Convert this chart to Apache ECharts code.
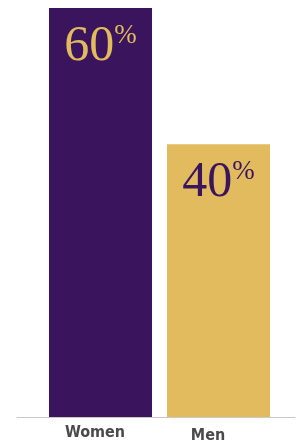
<!DOCTYPE html>
<html lang="en">
<head>
  <meta charset="UTF-8" />
  <title>Women vs Men</title>
  <script src="https://cdn.jsdelivr.net/npm/echarts@6/dist/echarts.min.js"></script>
  <style>
    body { margin: 0; background: #fff; }
    #chart { width: 303px; height: 445px; }
  </style>
</head>
<body>
  <div id="chart"></div>
  <script>
    // data
    const categories = ['Women', 'Men'];
    const shares = [60, 40];
    const barColors = ['#3b145e', '#e2bb5e'];
    const labelColors = ['#e2bb5e', '#3b145e'];

    const chart = echarts.init(document.getElementById('chart'));

    const serif = "'Liberation Serif', 'DejaVu Serif', serif";
    const narrow = "'Liberation Sans Narrow', 'DejaVu Sans Condensed', sans-serif";

    chart.setOption({
      animation: false,
      grid: [
        { left: 41.5, right: 25.5, top: 8, bottom: 28 },
        { left: 17, right: 8, top: 8, bottom: 28 }   // only for the long baseline
      ],
      xAxis: [
        {
          type: 'category',
          data: categories,
          gridIndex: 0,
          axisLine: { show: false },
          axisTick: { show: false },
          axisLabel: {
            margin: 8,
            formatter: v => v === 'Women' ? '{w|' + v + '}' : '{m|' + v + '}',
            rich: {
              w: { fontFamily: narrow, fontWeight: 'bold', fontSize: 16, color: '#4a4a4a', padding: [0, 11, 0, 0] },
              m: { fontFamily: narrow, fontWeight: 'bold', fontSize: 16, color: '#4a4a4a', padding: [3, 21, 0, 0] }
            }
          }
        },
        {
          type: 'category',
          data: categories,
          gridIndex: 1,
          axisLine: { show: true, lineStyle: { color: '#c8c8c8', width: 1 } },
          axisTick: { show: false },
          axisLabel: { show: false }
        }
      ],
      yAxis: [
        { type: 'value', gridIndex: 0, min: 0, max: 60, show: false },
        { type: 'value', gridIndex: 1, min: 0, max: 60, show: false }
      ],
      series: [{
        type: 'bar',
        xAxisIndex: 0,
        yAxisIndex: 0,
        barWidth: 103,
        data: shares.map((v, i) => ({
          value: v,
          itemStyle: { color: barColors[i] },
          label: {
            color: labelColors[i],
            rich: {
              n: { fontFamily: serif, fontSize: 50, color: labelColors[i], lineHeight: 50 },
              p: { fontFamily: serif, fontSize: 27, color: labelColors[i], lineHeight: 50, verticalAlign: 'top' }
            }
          }
        })),
        label: {
          show: true,
          position: 'insideTop',
          distance: 14,
          formatter: p => '{n|' + p.value + '}{p|%}'
        }
      }]
    });
  </script>
</body>
</html>
